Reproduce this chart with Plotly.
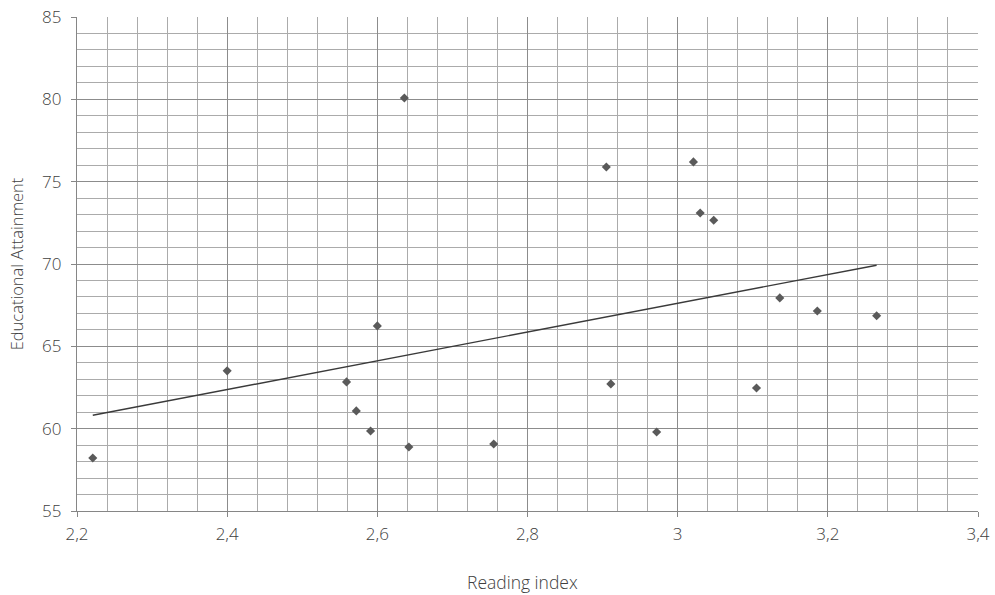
import numpy as np
import plotly.graph_objects as go

# Reading index vs. educational attainment
reading_index = [2.221, 2.400, 2.559, 2.572, 2.591, 2.600, 2.636, 2.642, 2.755,
                 2.905, 2.911, 2.972, 3.021, 3.030, 3.048, 3.105, 3.136, 3.186, 3.265]
attainment = [58.22, 63.51, 62.84, 61.08, 59.86, 66.24, 80.08, 58.89, 59.07,
              75.89, 62.72, 59.80, 76.20, 73.10, 72.66, 62.47, 67.94, 67.15, 66.86]

x_range = [2.2, 3.4]
y_range = [55, 85]

# least-squares linear trend across the observed range
slope, intercept = np.polyfit(reading_index, attainment, 1)
trend_x = [min(reading_index), max(reading_index)]
trend_y = [slope * v + intercept for v in trend_x]

font_family = "Open Sans"
text_color = "#404040"

fig = go.Figure()
fig.add_trace(go.Scatter(
    x=reading_index, y=attainment, mode="markers",
    marker=dict(symbol="diamond", size=7, color="#5a5a5a"),
    showlegend=False, hoverinfo="x+y",
))
fig.add_trace(go.Scatter(
    x=trend_x, y=trend_y, mode="lines",
    line=dict(color="#3a3a3a", width=1.4),
    showlegend=False, hoverinfo="skip",
))

axis_common = dict(
    showline=True, linecolor="#868686", linewidth=1.2,
    gridcolor="#8c8c8c", gridwidth=1,
    ticks="outside", ticklen=5, tickcolor="#868686",
    tickfont=dict(family=font_family, size=17, color=text_color, weight=300),
    zeroline=False, mirror=False, automargin=False,
)

fig.update_xaxes(
    range=x_range, dtick=0.2, tick0=2.2,
    minor=dict(dtick=0.04, showgrid=True, gridcolor="#ababab", gridwidth=1),
    ticklabelstandoff=2,
    **axis_common,
)
fig.update_yaxes(
    range=y_range, dtick=5, tick0=55,
    minor=dict(dtick=1, showgrid=True, gridcolor="#ababab", gridwidth=1),
    ticklabelstandoff=6,
    title=dict(text="Educational Attainment", standoff=14,
               font=dict(family=font_family, size=16.5, color=text_color, weight=300)),
    **axis_common,
)

# x-axis title placed as an annotation, slightly left of the plot centre
fig.add_annotation(
    text="Reading index", xref="paper", yref="paper",
    x=0.4945, y=-0.1437, xanchor="center", yanchor="middle",
    showarrow=False,
    font=dict(family=font_family, size=17.5, color=text_color, weight=300),
)

fig.update_layout(
    width=995, height=595,
    margin=dict(l=77, r=17, t=17, b=84),
    plot_bgcolor="white", paper_bgcolor="white",
    separators=", ",
    font=dict(family=font_family, color=text_color),
)

fig.write_html("out.html")
